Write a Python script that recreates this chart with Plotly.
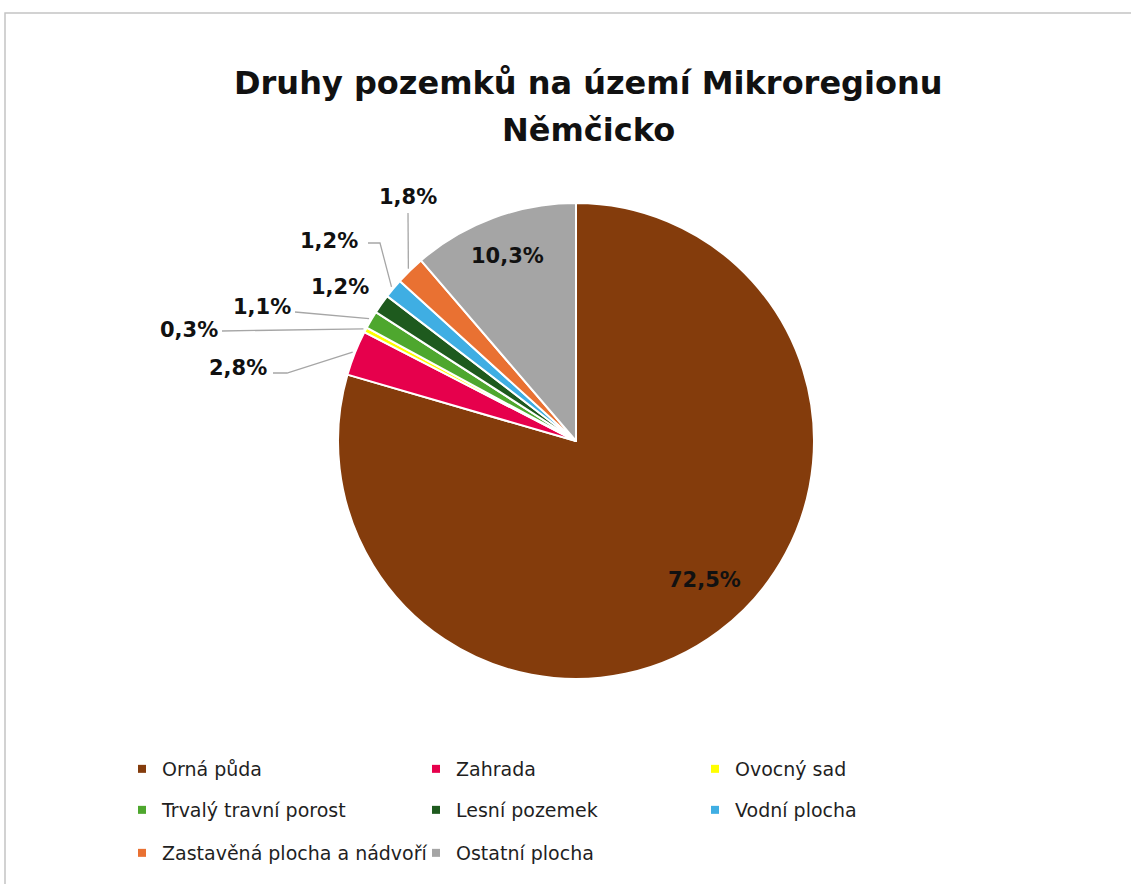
import math
import plotly.graph_objects as go

# ---- data -------------------------------------------------------------
categories = [
    "Orná půda",
    "Zahrada",
    "Ovocný sad",
    "Trvalý travní porost",
    "Lesní pozemek",
    "Vodní plocha",
    "Zastavěná plocha a nádvoří",
    "Ostatní plocha",
]
shares = [72.5, 2.8, 0.3, 1.1, 1.2, 1.2, 1.8, 10.3]
colors = ["#843C0C", "#E6004C", "#FFFF00", "#4EA72E",
          "#1E5A1E", "#3FAEE3", "#E97132", "#A5A5A5"]

title_lines = ["Druhy pozemků na území Mikroregionu", "Němčicko"]

# ---- page geometry (pixels) -------------------------------------------
W, H = 1131, 884
CX, CY, R = 576, 441, 238


def px(x):
    return x / W


def py(y):
    return 1 - y / H


def fmt(v):
    return f"{v:.1f}".replace(".", ",") + "%"


# slice mid angles (clockwise from 12 o'clock), computed from the shares
total = sum(shares)
mids = []
acc = 0.0
for v in shares:
    mids.append((acc + v / 2) / total * 2 * math.pi)
    acc += v


def edge(i, f=1.0):
    a = mids[i]
    return CX + f * R * math.sin(a), CY - f * R * math.cos(a)


fig = go.Figure()

fig.add_trace(go.Pie(
    labels=categories,
    values=shares,
    sort=False,
    direction="clockwise",
    rotation=0,
    marker=dict(colors=colors, line=dict(color="white", width=2)),
    textinfo="none",
    hoverinfo="label+value",
    showlegend=False,
    domain=dict(x=[px(CX - R), px(CX + R)], y=[py(CY + R), py(CY - R)]),
))

BOLD = "DejaVu Sans, Inter, sans-serif"
label_font = dict(family=BOLD, size=21, color="#111111")
annotations = []
shapes = []

# labels placed inside the two large slices
inside = {0: dict(f=0.83, dx=10, dy=-19), 7: dict(f=0.83, dx=0, dy=0)}
for i, st in inside.items():
    x, y = edge(i, st["f"])
    annotations.append(dict(
        x=px(x + st["dx"]), y=py(y + st["dy"]), xref="paper", yref="paper",
        text=f"<b>{fmt(shares[i])}</b>", showarrow=False, font=label_font,
        xanchor="center", yanchor="middle"))

# labels outside the small slices, with leader lines to the slice edge
outside = {
    1: dict(text=(238, 368), line=[(273, 373), (287, 373)]),
    2: dict(text=(189, 330), line=[(222, 331)]),
    3: dict(text=(262, 307), line=[(295, 312)]),
    4: dict(text=(340, 287), line=None),
    5: dict(text=(329, 241), line=[(368, 243), (380, 243)]),
    6: dict(text=(408, 197), line=[(408, 213)]),
}
for i, st in outside.items():
    tx, ty = st["text"]
    annotations.append(dict(
        x=px(tx), y=py(ty), xref="paper", yref="paper",
        text=f"<b>{fmt(shares[i])}</b>", showarrow=False, font=label_font,
        xanchor="center", yanchor="middle"))
    if st["line"]:
        pts = list(st["line"]) + [edge(i, 1.01)]
        path = "M " + " L ".join(f"{px(x):.5f},{py(y):.5f}" for x, y in pts)
        shapes.append(dict(type="path", path=path, xref="paper", yref="paper",
                           line=dict(color="#A6A6A6", width=1.3)))

# title
for line, y in zip(title_lines, [83, 130]):
    annotations.append(dict(
        x=px(588), y=py(y), xref="paper", yref="paper",
        text=f"<b>{line}</b>", showarrow=False,
        font=dict(family=BOLD, size=32, color="#111111"),
        xanchor="center", yanchor="middle"))

# chart frame
shapes.append(dict(type="rect", xref="paper", yref="paper",
                   x0=px(5), y0=-0.02, x1=1.02, y1=py(13),
                   line=dict(color="#C4C4C4", width=1.5)))

# legend: one entry per category, laid out in a 3-column grid
col_x = [162, 456, 735]
row_y = [769, 810, 853]
layout_legends = {}
for i, (name, c) in enumerate(zip(categories, colors)):
    key = "legend" if i == 0 else f"legend{i + 1}"
    fig.add_trace(go.Scatter(
        x=[None], y=[None], mode="markers", name=name,
        marker=dict(symbol="square", size=8, color=c),
        showlegend=True, legend=key, hoverinfo="skip"))
    r, cidx = divmod(i, 3)
    layout_legends[key] = dict(
        x=px(col_x[cidx] - 40), y=py(row_y[r]), xanchor="left", yanchor="middle",
        bgcolor="rgba(0,0,0,0)", borderwidth=0,
        font=dict(family="DejaVu Sans, sans-serif", size=19, color="#1F1F1F"),
        itemwidth=30)

fig.update_layout(
    width=W, height=H,
    margin=dict(l=0, r=0, t=0, b=0),
    paper_bgcolor="white",
    plot_bgcolor="white",
    xaxis=dict(visible=False),
    yaxis=dict(visible=False),
    annotations=annotations,
    shapes=shapes,
    **layout_legends,
)

fig.write_html("out.html")
